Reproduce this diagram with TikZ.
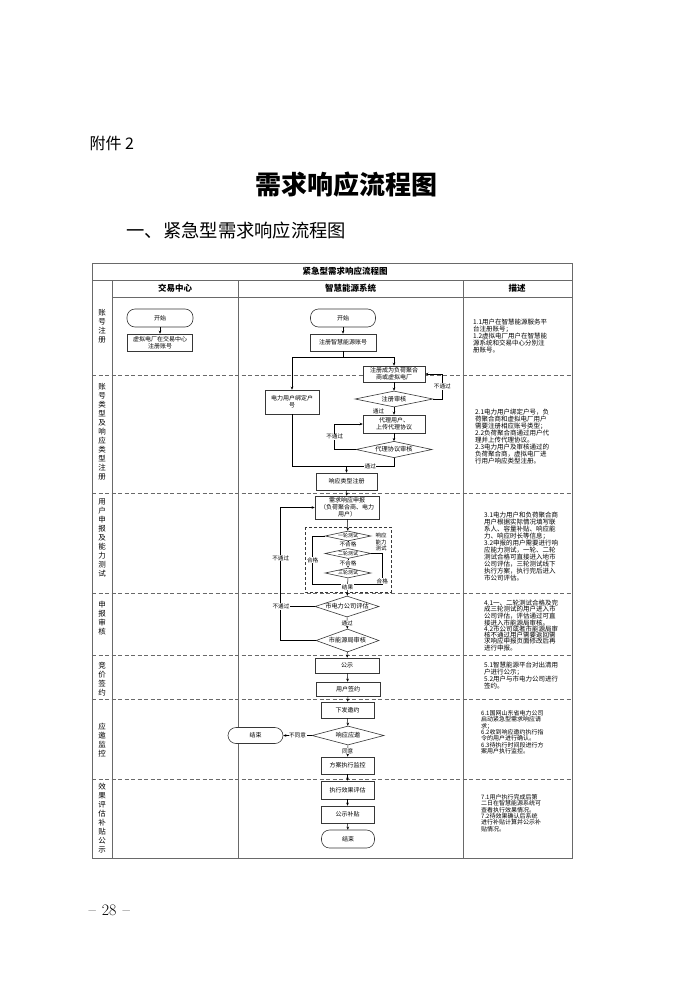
\documentclass[tikz,border=0pt]{standalone}
\usepackage{fontspec}
\newfontfamily\cjk{Noto Sans CJK SC}
\usepackage{tikz}
\usetikzlibrary{arrows.meta,positioning,shapes.geometric}
\definecolor{frame}{RGB}{105,105,105}
\definecolor{inkgray}{RGB}{55,55,55}
\tikzset{
  % ---- flow shapes ------------------------------------------------------
  box/.style={
    draw=inkgray, line width=0.6pt, fill=white, text=black,
    font=\cjk\fontsize{6}{7}\selectfont, align=center, inner sep=1pt},
  term/.style={box, rounded corners=8pt},
  dec/.style={
    diamond, aspect=3.5, draw=inkgray, line width=0.6pt, fill=white,
    font=\cjk\fontsize{6.2}{7}\selectfont, inner sep=0pt},
  tdec/.style={dec, aspect=4.5, font=\cjk\fontsize{5}{6}\selectfont,
    minimum width=46pt, minimum height=10pt},
  % ---- table ------------------------------------------------------------
  rule/.style={draw=frame, line width=0.7pt},
  drule/.style={draw=frame, line width=0.6pt, dash pattern=on 4pt off 2.5pt},
  grp/.style={draw=inkgray, line width=0.5pt, dash pattern=on 3pt off 2pt},
  colhead/.style={font=\cjk\bfseries\fontsize{8.5}{10}\selectfont},
  stage/.style={font=\cjk\fontsize{7.5}{9}\selectfont, align=center, inner sep=0pt},
  note/.style={font=\cjk\fontsize{6.5}{7}\selectfont, align=left,
    anchor=north west, inner sep=0pt},
  notet/.style={note, font=\cjk\fontsize{6.5}{6.2}\selectfont},
  notes/.style={note, font=\cjk\fontsize{6}{6.4}\selectfont},
  % ---- arrows -----------------------------------------------------------
  ar/.style={-{Stealth[length=3pt,width=2.6pt]}, draw=black, line width=0.5pt},
  ln/.style={draw=black, line width=0.5pt},
  % ---- labels -----------------------------------------------------------
  lbl/.style={font=\cjk\fontsize{5.6}{6}\selectfont, fill=white, inner sep=0.6pt},
}

\begin{document}
\begin{tikzpicture}[x=1pt,y=-1pt]
\useasboundingbox[fill=white] (0,0) rectangle (700,990);

\def\XL{92}\def\XS{112}\def\XA{238}\def\XB{463}\def\XR{572}
\def\YT{263}\def\YH{280}\def\YC{297}\def\YE{858}

% ---- page headings --------------------------------------------------------
\node[anchor=west, font=\cjk\fontsize{16}{18}\selectfont] (attach) at (86,143) {附件 2};
\node[font=\cjk\bfseries\fontsize{26}{28}\selectfont] (title) at (346,185) {需求响应流程图};
\node[anchor=west, font=\cjk\fontsize{18.3}{20}\selectfont] (subtitle) at (123,231)
  {一、紧急型需求响应流程图};
\node[anchor=west, font=\fontsize{16}{18}\selectfont] (pageno) at (85,910)
  {--\hspace{6pt}28\hspace{6pt}--};

% ---- table frame ----------------------------------------------------------
\draw[rule] (\XL,\YT) rectangle (\XR,\YE);
\draw[rule] (\XL,\YH) -- (\XR,\YH);
\draw[rule] (\XS,\YC) -- (\XR,\YC);
\foreach \x in {\XS,\XA,\XB} \draw[rule] (\x,\YH) -- (\x,\YE);
\foreach \y in {375,493,593,655,699,779} \draw[drule] (\XL,\y) -- (\XR,\y);

\node[colhead] (tabtitle) at (345,271.5) {紧急型需求响应流程图};
\node[colhead] (hJx) at (175,288.5) {交易中心};
\node[colhead] (hZh) at (350.5,288.5) {智慧能源系统};
\node[colhead] (hMs) at (517,288.5) {描述};

% ---- stage column ---------------------------------------------------------
\node[stage] (sg1) at (102,326) {账\\号\\注\\册};
\node[stage] (sg2) at (102,432) {账\\号\\类\\型\\及\\响\\应\\类\\型\\注\\册};
\node[stage] (sg3) at (102,538) {用\\户\\申\\报\\及\\能\\力\\测\\试};
\node[stage] (sg4) at (102,618) {申\\报\\审\\核};
\node[stage] (sg5) at (102,679) {竞\\价\\签\\约};
\node[stage] (sg6) at (102,740) {应\\邀\\监\\控};
\node[stage] (sg7) at (102,818) {效\\果\\评\\估\\补\\贴\\公\\示};

% ---- trading centre -------------------------------------------------------
\node[term, minimum width=66pt, minimum height=18pt] (jxStart) at (160,318) {开始};
\node[box, minimum width=65pt, minimum height=17pt] (jxReg) at (160,342.5)
  {虚拟电厂在交易中心\\注册账号};
\draw[ar] (jxStart) -- (jxReg);

% ---- energy system: registration -----------------------------------------
\node[term, minimum width=65pt, minimum height=18pt] (zhStart) at (343,318) {开始};
\node[box, minimum width=66pt, minimum height=17pt] (zhAcct) at (343,342.5) {注册智慧能源账号};
\node[box, minimum width=62pt, minimum height=16pt] (zhAgg) at (394,374)
  {注册成为负荷聚合\\商或虚拟电厂};
\node[box, minimum width=54pt, minimum height=24pt] (zhBind) at (292,402)
  {电力用户绑定户\\号};
\node[dec, minimum width=78pt, minimum height=16pt] (zhAudit) at (394,399) {注册审核};
\node[box, minimum width=62pt, minimum height=18pt] (zhProxy) at (394,424)
  {代理用户、\\上传代理协议};
\node[dec, minimum width=76pt, minimum height=15pt] (zhProxyChk) at (394,449.5) {代理协议审核};
\node[box, minimum width=61pt, minimum height=17pt] (zhType) at (346.5,481.5) {响应类型注册};

\coordinate (split) at (343,357);
\coordinate (joinT) at (346.5,466);
\draw[ar] (zhStart) -- (zhAcct);
\draw[ln] (zhAcct) -- (split);
\draw[ar] (split) -| (zhAgg.north);
\draw[ar] (split) -| (zhBind.north);
\draw[ar] (zhAgg) -- (zhAudit);
\draw[ar] (zhAudit.east) -- ++(9,0) |- node[lbl, pos=0.25] {不通过} (zhAgg.east);
\draw[ar] (zhAudit) -- node[lbl, left=9pt] {通过} (zhProxy);
\draw[ar] (zhProxy) -- (zhProxyChk);
\draw[ar] (zhProxyChk.west) -- ++(-21,0) |- node[lbl, pos=0.25] {不通过} (zhProxy.west);
\draw[ln] (zhProxyChk.south) |- node[lbl, pos=0.75] {通过} (joinT);
\draw[ln] (zhBind.south) |- (joinT);
\draw[ar] (joinT) -- (zhType.north);

% ---- declaration and capability tests ------------------------------------
\node[box, minimum width=64pt, minimum height=23pt] (zhDecl) at (347,507.5)
  {需求响应申报\\（负荷聚合商、电力\\用户）};
\node[tdec] (testA) at (348,536) {一轮测试};
\node[tdec] (testB) at (348,553.5) {二轮测试};
\node[tdec] (testC) at (348,573) {三轮测试};
\draw[grp] (305,527) rectangle (391,592);
\node[lbl, fill=none, align=center, font=\cjk\fontsize{5.5}{6.7}\selectfont]
  (testTag) at (381,542) {响应\\能力\\测试};

\coordinate (joinR) at (348,584);
\draw[ar] (zhType) -- (zhDecl);
\draw[ar] (zhDecl) -- (testA);
\draw[ar] (testA) -- node[lbl] {不合格} (testB);
\draw[ar] (testB) -- node[lbl] {不合格} (testC);
\draw[ln] (testA.west) -- ++(-12,0) |- node[lbl, pos=0.25] {合格} (joinR);
\draw[ln] (testB.east) -- ++(11,0) |- node[lbl, pos=0.45] {合格} (joinR);

% ---- review ---------------------------------------------------------------
\node[dec, minimum width=64pt, minimum height=21pt] (cityEval) at (347,606.5) {市电力公司评估};
\node[dec, minimum width=63pt, minimum height=23pt] (bureauChk) at (347.5,640.5) {市能源局审核};
\coordinate (joinL) at (281,606.5);
\draw[ar] (testC) -- node[lbl] {结果} (cityEval);
\draw[ar] (cityEval) -- node[lbl] {通过} (bureauChk);
\draw[ar] (bureauChk.west) -- ++(-35,0) |- node[lbl, pos=0.31] {不通过} (zhDecl.west);
\draw[ln] (cityEval.west) -- (joinL) node[lbl] {不通过};

% ---- bidding and signing --------------------------------------------------
\node[box, minimum width=64pt, minimum height=15pt] (pub) at (347,665.5) {公示};
\node[box, minimum width=64pt, minimum height=14pt] (sign) at (348,689) {用户签约};
\draw[ar] (bureauChk) -- (pub);
\draw[ar] (pub) -- (sign);

% ---- invitation and monitoring --------------------------------------------
\node[box, minimum width=53pt, minimum height=16pt] (invite) at (347.5,710) {下发邀约};
\node[dec, minimum width=72pt, minimum height=19pt] (reply) at (348,735.5) {响应应邀};
\node[term, minimum width=55pt, minimum height=16pt] (endL) at (255.5,735.5) {结束};
\node[box, minimum width=53pt, minimum height=17pt] (monitor) at (347.5,765.5) {方案执行监控};
\draw[ar] (sign) -- (invite);
\draw[ar] (invite) -- (reply);
\draw[ar] (reply) -- node[lbl] {同意} (monitor);
\draw[ar] (reply.west) -- node[lbl] {不同意} (endL.east);

% ---- evaluation and subsidy -----------------------------------------------
\node[box, minimum width=53pt, minimum height=18pt] (effect) at (347.5,790) {执行效果评估};
\node[box, minimum width=53pt, minimum height=17pt] (subsidy) at (347.5,814.5) {公示补贴};
\node[term, minimum width=53pt, minimum height=18pt] (endB) at (348,839) {结束};
\draw[ar] (monitor) -- (effect);
\draw[ar] (effect) -- (subsidy);
\draw[ar] (subsidy) -- (endB);

% ---- descriptions ---------------------------------------------------------
\node[note] (n1) at (473,319) {1.1用户在智慧能源服务平\\台注册账号；\\1.2虚拟电厂用户在智慧能\\源系统和交易中心分别注\\册账号。};
\node[note] (n2) at (475,409) {2.1电力用户绑定户号，负\\荷聚合商和虚拟电厂用户\\需要注册相应账号类型；\\2.2负荷聚合商通过用户代\\理并上传代理协议。\\2.3电力用户及审核通过的\\负荷聚合商，虚拟电厂进\\行用户响应类型注册。};
\node[note] (n3) at (484,512) {3.1电力用户和负荷聚合商\\用户根据实际情况填写联\\系人、容量补贴、响应能\\力、响应时长等信息；\\3.2申报的用户需要进行响\\应能力测试，一轮、二轮\\测试合格可直接进入地市\\公司评估，三轮测试线下\\执行方案，执行完后进入\\市公司评估。};
\node[notet] (n4) at (484,600) {4.1一、二轮测试合格及完\\成三轮测试的用户进入市\\公司评估，评估通过可直\\接进入市能源局审核。\\4.2市公司或者市能源局审\\核不通过用户需要返回需\\求响应申报页面修改后再\\进行申报。};
\node[note] (n5) at (484,662) {5.1智慧能源平台对出清用\\户进行公示；\\5.2用户与市电力公司进行\\签约。};
\node[notes] (n6) at (481,710) {6.1国网山东省电力公司\\启动紧急型需求响应请\\求；\\6.2收到响应邀约执行指\\令的用户进行确认。\\6.3待执行时间段进行方\\案用户执行监控。};
\node[notes] (n7) at (481,794) {7.1用户执行完成后第\\二日在智慧能源系统可\\查看执行效果情况。\\7.2待效果确认后系统\\进行补贴计算并公示补\\贴情况。};

\end{tikzpicture}
\end{document}
